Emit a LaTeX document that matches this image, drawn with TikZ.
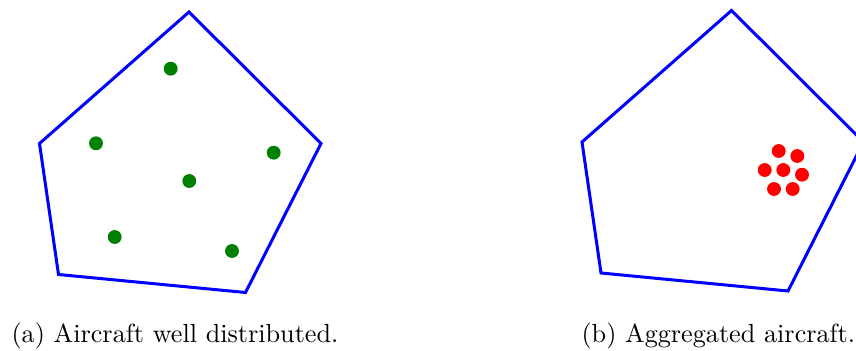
\documentclass[tikz,border=0pt]{standalone}
\usepackage{tikz}
\usetikzlibrary{positioning}
\definecolor{zoneblue}{RGB}{0,0,255}
\definecolor{acgreen}{RGB}{0,128,0}
\definecolor{acred}{RGB}{255,0,0}
\tikzset{
  zoneline/.style={draw=zoneblue, line width=1.15pt, line join=miter},
  plane/.style={circle, inner sep=0pt, minimum size=5.3pt},
  subcap/.style={anchor=base west, inner sep=0pt, font=\normalsize},
}

\begin{document}
\begin{tikzpicture}[x=0.382pt, y=-0.382pt]
  \useasboundingbox (0,0) rectangle (856,351);
  \clip (0,0) rectangle (856,351);

  % (a) sector with spread traffic
  \draw[zoneline] (189,12) -- (321,143.5) -- (245.5,292.5) -- (58.5,274.5) -- (39.5,143.5) -- cycle;
  \foreach \px/\py [count=\i] in {170.7/68.7, 96/143.3, 273.7/152.7, 189.3/181, 114.7/237, 232/251}
    \node[plane, fill=acgreen] (a\i) at (\px,\py) {};
  \node[subcap] (capa) at (11,342) {(a) Aircraft well distributed.};

  % (b) sector with clustered traffic
  \begin{scope}[shift={(542.5,-1.5)}]
    \draw[zoneline] (189,12) -- (321,143.5) -- (245.5,292.5) -- (58.5,274.5) -- (39.5,143.5) -- cycle;
  \end{scope}
  \foreach \px/\py [count=\i] in {778.7/151, 797.3/156, 764.7/170, 783.3/170, 802/174.7, 774/189, 792.7/189}
    \node[plane, fill=acred] (b\i) at (\px,\py) {};
  \node[subcap] (capb) at (581,342) {(b) Aggregated aircraft.};
\end{tikzpicture}
\end{document}
